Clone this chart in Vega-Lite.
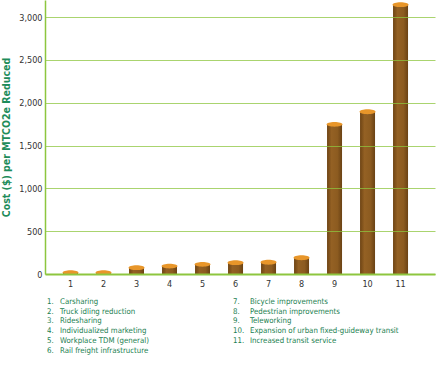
{
  "$schema": "https://vega.github.io/schema/vega-lite/v6.json",
  "padding": {"left": 1, "top": 0, "right": 5, "bottom": 0},
  "background": "white",
  "config": {"view": {"stroke": null}, "font": "DejaVu Sans Condensed", "concat": {"spacing": 6}},
  "vconcat": [
    {
      "width": 390,
      "height": 274,
      "data": {"values": [
        {"measure": 1, "cost": 17},
        {"measure": 2, "cost": 16},
        {"measure": 3, "cost": 74},
        {"measure": 4, "cost": 93},
        {"measure": 5, "cost": 113},
        {"measure": 6, "cost": 132},
        {"measure": 7, "cost": 137},
        {"measure": 8, "cost": 190},
        {"measure": 9, "cost": 1748},
        {"measure": 10, "cost": 1895},
        {"measure": 11, "cost": 3145}
      ]},
      "layer": [
        {
          "mark": {"type": "bar", "width": 15, "color": {"gradient": "linear", "x1": 0, "x2": 1, "y1": 0, "y2": 0, "stops": [
            {"offset": 0, "color": "#6E4414"},
            {"offset": 0.3, "color": "#946124"},
            {"offset": 0.7, "color": "#8C5B20"},
            {"offset": 1, "color": "#6A4214"}
          ]}},
          "encoding": {
            "x": {"field": "measure", "type": "ordinal", "scale": {"paddingInner": 0.536, "paddingOuter": 0.677, "align": 0.4},
              "axis": {"title": null, "labelAngle": 0, "ticks": false, "grid": false, "domainColor": "#8DC63F", "domainWidth": 2, "labelColor": "#333333", "labelFontSize": 9, "labelPadding": 5, "zindex": 1}},
            "y": {"field": "cost", "type": "quantitative", "scale": {"domain": [0, 3200], "nice": false},
              "axis": {"values": [0, 500, 1000, 1500, 2000, 2500, 3000], "format": ",.0f", "ticks": false, "gridColor": "#8DC63F", "gridOpacity": 0.75, "gridWidth": 1, "domainColor": "#8DC63F", "domainWidth": 1.5, "labelPadding": 3, "labelFontSize": 9, "labelColor": "#333333", "title": "Cost ($) per MTCO2e Reduced", "titleColor": "#1E8C5A", "titleFontSize": 10.5, "titleFontWeight": "bold", "titlePadding": 7, "zindex": 1}}
          }
        },
        {
          "mark": {"type": "point", "shape": "M-1,0A1,0.3,0,1,1,1,0A1,0.3,0,1,1,-1,0Z", "size": 256, "filled": true, "color": "#E8962A", "opacity": 1},
          "encoding": {
            "x": {"field": "measure", "type": "ordinal"},
            "y": {"field": "cost", "type": "quantitative"}
          }
        }
      ]
    },
    {
      "width": 390,
      "height": 60,
      "data": {"values": [
        {"num": "1.", "label": "Carsharing", "col": 0, "row": 0},
        {"num": "2.", "label": "Truck idling reduction", "col": 0, "row": 1},
        {"num": "3.", "label": "Ridesharing", "col": 0, "row": 2},
        {"num": "4.", "label": "Individualized marketing", "col": 0, "row": 3},
        {"num": "5.", "label": "Workplace TDM (general)", "col": 0, "row": 4},
        {"num": "6.", "label": "Rail freight infrastructure", "col": 0, "row": 5},
        {"num": "7.", "label": "Bicycle improvements", "col": 1, "row": 0},
        {"num": "8.", "label": "Pedestrian improvements", "col": 1, "row": 1},
        {"num": "9.", "label": "Teleworking", "col": 1, "row": 2},
        {"num": "10.", "label": "Expansion of urban fixed-guideway transit", "col": 1, "row": 3},
        {"num": "11.", "label": "Increased transit service", "col": 1, "row": 4}
      ]},
      "layer": [
        {
          "mark": {"type": "text", "align": "left", "baseline": "middle", "fontSize": 7.8, "fontWeight": 500, "color": "#1A8050"},
          "encoding": {
            "x": {"field": "col", "type": "quantitative", "scale": {"domain": [0, 1], "range": [2, 188]}, "axis": null},
            "y": {"field": "row", "type": "quantitative", "scale": {"domain": [0, 5], "range": [8, 56.5]}, "axis": null},
            "text": {"field": "num"}
          }
        },
        {
          "mark": {"type": "text", "align": "left", "baseline": "middle", "fontSize": 7.8, "fontWeight": 500, "color": "#1A8050"},
          "encoding": {
            "x": {"field": "col", "type": "quantitative", "scale": {"domain": [0, 1], "range": [15, 205]}, "axis": null},
            "y": {"field": "row", "type": "quantitative", "axis": null},
            "text": {"field": "label"}
          }
        }
      ],
      "resolve": {"scale": {"x": "independent"}}
    }
  ]
}
